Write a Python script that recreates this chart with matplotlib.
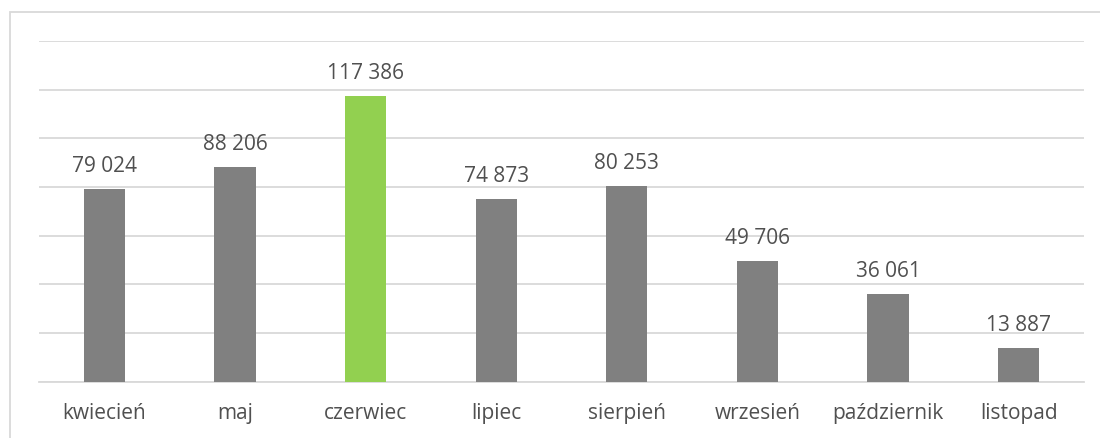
import matplotlib
matplotlib.use("Agg")
import matplotlib.pyplot as plt
from matplotlib.patches import Rectangle

months = ["kwiecień", "maj", "czerwiec", "lipiec", "sierpień", "wrzesień", "październik", "listopad"]
values = [79024, 88206, 117386, 74873, 80253, 49706, 36061, 13887]
labels = ["79 024", "88 206", "117 386", "74 873", "80 253", "49 706", "36 061", "13 887"]
highlight = "czerwiec"

plt.rcParams['font.family'] = ['Open Sans', 'DejaVu Sans']

W, H = 1100, 439
fig = plt.figure(figsize=(W / 100, H / 100), dpi=100)
ax = fig.add_axes([39 / W, 1 - 382.5 / H, (1084 - 39) / W, (382.5 - 42) / H])

colors = ["#92D050" if m == highlight else "#808080" for m in months]
x = range(len(months))
ax.bar(x, values, width=0.315, color=colors, zorder=3)
ax.set_xlim(-0.5, len(months) - 0.5)
ax.set_ylim(0, 140000)
ax.set_yticks(range(0, 140001, 20000))
ax.yaxis.grid(True, color="#d9d9d9", linewidth=1.3, zorder=0)
ax.tick_params(axis='y', left=False, labelleft=False)
ax.tick_params(axis='x', bottom=False, colors="#505050", labelsize=15, pad=11)
ax.set_xticks(list(x))
ax.set_xticklabels(months)
for s in ["top", "right", "left"]:
    ax.spines[s].set_visible(False)
ax.spines["bottom"].set_color("#d9d9d9")
ax.spines["bottom"].set_linewidth(1.3)

for xi, v, lab in zip(x, values, labels):
    ax.annotate(lab, (xi, v), xytext=(0, 13), textcoords="offset points",
                ha="center", va="baseline", fontsize=15, color="#505050")

fig.patches.append(Rectangle((9.5 / W, -0.1), 1.2, 1 - 12.5 / H + 0.1,
                             transform=fig.transFigure, fill=False,
                             edgecolor="#d9d9d9", linewidth=1.3))

fig.savefig("out.png", dpi=100)
